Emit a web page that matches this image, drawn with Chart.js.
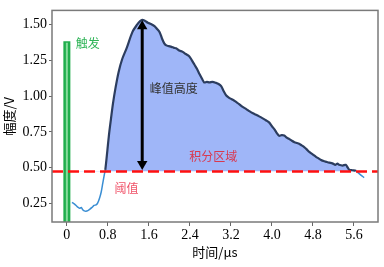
<!DOCTYPE html>
<html>
<head>
<meta charset="utf-8">
<script src="https://cdn.jsdelivr.net/npm/chart.js@4.4.1/dist/chart.umd.min.js"></script>
<style>
html,body{margin:0;padding:0;background:#fff;}
#wrap{width:384px;height:267px;position:relative;}
</style>
</head>
<body>
<div id="wrap"><canvas id="c" width="384" height="267"></canvas></div>
<script>
// ---- data ----
const timeUs = [0.10,0.15,0.20,0.25,0.28,0.31,0.34,0.37,0.41,0.45,0.49,0.53,0.57,0.60,0.64,0.67,0.70,0.73,0.75,0.79,0.82,0.86,0.90,0.95,1.01,1.08,1.17,1.28,1.37,1.43,1.47,1.52,1.58,1.64,1.71,1.76,1.81,1.86,1.90,1.94,1.99,2.04,2.09,2.13,2.19,2.26,2.32,2.39,2.44,2.49,2.54,2.59,2.64,2.68,2.73,2.78,2.84,2.91,2.96,3.01,3.06,3.11,3.16,3.21,3.26,3.30,3.36,3.43,3.50,3.56,3.63,3.69,3.76,3.82,3.89,3.95,4.00,4.05,4.10,4.14,4.19,4.24,4.29,4.34,4.39,4.44,4.49,4.53,4.58,4.63,4.68,4.73,4.80,4.86,4.91,4.96,5.01,5.05,5.12,5.18,5.24,5.28,5.31,5.38,5.44,5.48,5.51,5.57,5.64,5.68,5.73,5.80];
const amplitudeV = [0.257,0.245,0.228,0.216,0.222,0.205,0.198,0.196,0.200,0.210,0.222,0.236,0.240,0.252,0.290,0.330,0.390,0.450,0.485,0.620,0.725,0.840,0.950,1.060,1.170,1.260,1.340,1.450,1.500,1.525,1.534,1.528,1.514,1.505,1.490,1.470,1.448,1.400,1.370,1.355,1.350,1.345,1.338,1.335,1.320,1.310,1.295,1.278,1.250,1.220,1.190,1.153,1.120,1.096,1.100,1.096,1.100,1.093,1.085,1.070,1.035,1.005,0.990,0.980,0.970,0.960,0.945,0.925,0.910,0.895,0.880,0.870,0.857,0.845,0.830,0.815,0.790,0.768,0.740,0.723,0.728,0.725,0.710,0.700,0.688,0.678,0.672,0.667,0.656,0.644,0.628,0.610,0.592,0.576,0.565,0.554,0.546,0.542,0.535,0.530,0.520,0.528,0.520,0.515,0.520,0.500,0.486,0.482,0.478,0.465,0.450,0.430];
const thresholdV = 0.474;
const triggerTime = 0;
const triggerTop = 1.385;
const peakTime = 1.47;
const arrowEnds = [0.525, 1.49];
const xTicks = [0, 0.8, 1.6, 2.4, 3.2, 4.0, 4.8, 5.6];
const xTickLabels = ['0','0.8','1.6','2.4','3.2','4.0','4.8','5.6'];
const yTicks = [0.25, 0.50, 0.75, 1.00, 1.25, 1.50];
const yTickLabels = ['0.25','0.50','0.75','1.00','1.25','1.50'];
const xRange = [-0.29, 6.07];
const yRange = [0.12, 1.60];
const notes = [
  {text:'触发', x:0.175, y:1.371, color:'#2fb457'},
  {text:'峰值高度', x:1.615, y:1.052, color:'#333333'},
  {text:'积分区域', x:2.39, y:0.58, color:'#d9384f'},
  {text:'阈值', x:0.93, y:0.352, color:'#f0546a'}
];

// ---- build ----
const curvePts = timeUs.map((t,i)=>({x:t,y:amplitudeV[i]}));
const DARK = '#2c3d5f', LIGHT = '#3a8ed3';

const framePlugin = {
  id:'frame',
  afterDatasetsDraw(chart){
    const {ctx, chartArea:a} = chart;
    ctx.save();
    ctx.strokeStyle = '#7a7a7a';
    ctx.lineWidth = 1.5;
    ctx.strokeRect(a.left, a.top, a.right-a.left, a.bottom-a.top);
    ctx.restore();
  }
};
const notesPlugin = {
  id:'notes',
  afterDraw(chart){
    const {ctx} = chart;
    const sx = chart.scales.x, sy = chart.scales.y;
    ctx.save();
    ctx.font = '12px "Noto Sans CJK SC"';
    ctx.textBaseline = 'middle';
    ctx.textAlign = 'left';
    notes.forEach(n=>{
      ctx.fillStyle = n.color;
      ctx.fillText(n.text, sx.getPixelForValue(n.x), sy.getPixelForValue(n.y));
    });
    ctx.restore();
  }
};

const tickFont = {family:"'Liberation Serif', 'Times New Roman', serif", size:14};
const titleFont = {family:'"Noto Sans CJK SC"', size:13};

function draw(){
new Chart(document.getElementById('c'), {
  type:'line',
  data:{datasets:[
    {label:'arrow', data:[{x:peakTime,y:arrowEnds[0]},{x:peakTime,y:arrowEnds[1]}],
      borderColor:'#000', borderWidth:3, pointStyle:'triangle', pointRadius:6,
      pointRotation:[180,0], pointBackgroundColor:'#000', pointBorderWidth:0, fill:false},
    {label:'threshold', data:[{x:xRange[0],y:thresholdV},{x:xRange[1],y:thresholdV}],
      borderColor:'#ff1010', borderWidth:2.5, borderDash:[11,5], pointRadius:0, fill:false},
    {label:'triggerInner', data:[{x:triggerTime,y:yRange[0]},{x:triggerTime,y:triggerTop-0.012}],
      borderColor:'#86dc9c', borderWidth:2, pointRadius:0, fill:false},
    {label:'trigger', data:[{x:triggerTime,y:yRange[0]},{x:triggerTime,y:triggerTop}],
      borderColor:'#1fae4c', borderWidth:7, pointRadius:0, fill:false, borderCapStyle:'butt'},
    {label:'signal', data:curvePts, borderWidth:2, pointRadius:0, tension:0.3,
      segment:{
        borderColor: c => (c.p0.parsed.y >= thresholdV && c.p1.parsed.y >= thresholdV) ? DARK : LIGHT,
        borderWidth: c => (c.p0.parsed.y >= thresholdV && c.p1.parsed.y >= thresholdV) ? 2.2 : 1.5
      },
      fill:{target:{value:thresholdV}, above:'#9fb6f8', below:'rgba(0,0,0,0)'}}
  ]},
  options:{
    responsive:false, animation:false, devicePixelRatio:1,
    layout:{padding:{top:4,right:5,left:0,bottom:7}},
    plugins:{legend:{display:false}, tooltip:{enabled:false}},
    scales:{
      x:{type:'linear', min:xRange[0], max:xRange[1],
        afterBuildTicks: s => { s.ticks = xTicks.map(v=>({value:v})); },
        afterFit: s => { s.height = 38; },
        ticks:{callback:(v,i)=>xTickLabels[i], font:tickFont, color:'#000', padding:1, maxRotation:0, autoSkip:false},
        grid:{display:true, drawOnChartArea:false, drawTicks:true, tickLength:4, color:'#666'},
        border:{display:false},
        title:{display:true, text:'时间/μs', font:titleFont, color:'#000', padding:{top:0,bottom:0}}},
      y:{type:'linear', min:yRange[0], max:yRange[1],
        afterBuildTicks: s => { s.ticks = yTicks.map(v=>({value:v})); },
        afterFit: s => { s.width = 52; },
        ticks:{callback:(v,i)=>yTickLabels[i], font:tickFont, color:'#000', padding:2, autoSkip:false},
        grid:{display:true, drawOnChartArea:false, drawTicks:true, tickLength:3, color:'#666'},
        border:{display:false},
        title:{display:true, text:'幅度/V', font:titleFont, color:'#000', padding:{top:1,bottom:0}}}
    }
  },
  plugins:[framePlugin, notesPlugin]
});
}
const loads = ['14px "Liberation Serif"','13px "Noto Sans CJK SC"','12px "Noto Sans CJK SC"'].map(f=>document.fonts.load(f, '0.51触发时间幅度μs'));
Promise.all(loads).then(draw, draw);
</script>
</body>
</html>
